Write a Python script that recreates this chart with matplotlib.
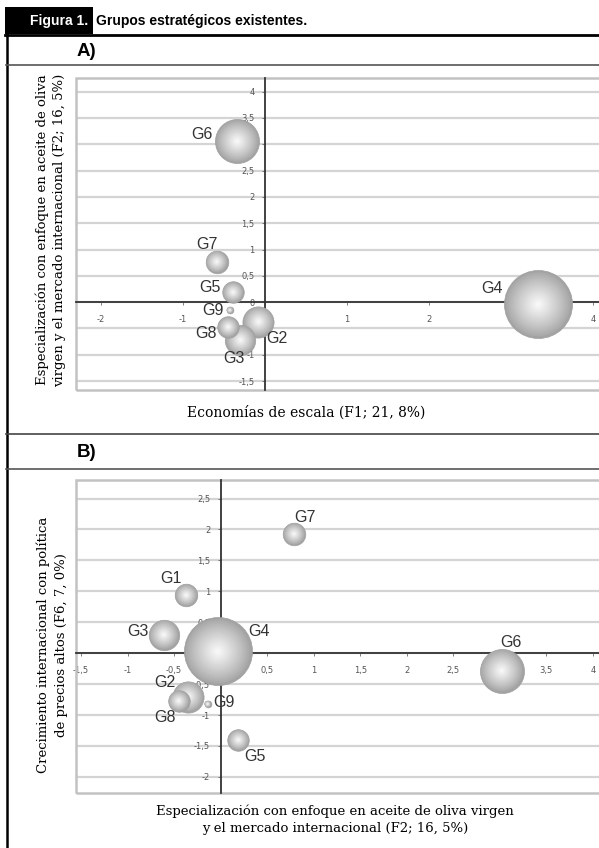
import matplotlib
matplotlib.use("Agg")
import matplotlib.pyplot as plt
from matplotlib.patches import Rectangle
import numpy as np

# bubble weights (relative size of each strategic group)
groups = ["G1", "G2", "G3", "G4", "G5", "G6", "G7", "G8", "G9"]
weights = [11, 21, 20, 100, 10, 42, 11, 10, 1]

# panel A: F1 (x) vs F2 (y)  -- G1 not visible in the original
a_groups = ["G2", "G3", "G4", "G5", "G6", "G7", "G8", "G9"]
a_x = [-0.08, -0.30, 3.33, -0.39, -0.34, -0.59, -0.45, -0.43]
a_y = [-0.37, -0.72, -0.04, 0.19, 3.06, 0.77, -0.47, -0.15]
# label offsets in points
a_off = {"G2": (13, -12), "G3": (-5, -13), "G4": (-33, 11), "G5": (-17, 3),
         "G6": (-25, 5), "G7": (-7, 12), "G8": (-16, -5), "G9": (-12, 0)}

# panel B: F2 (x) vs F6 (y)
b_groups = ["G1", "G2", "G3", "G4", "G5", "G6", "G7", "G8", "G9"]
b_x = [-0.37, -0.35, -0.61, -0.03, 0.19, 3.02, 0.79, -0.45, -0.14]
b_y = [0.94, -0.70, 0.30, 0.03, -1.40, -0.28, 1.93, -0.77, -0.82]
b_off = {"G1": (-11, 12), "G2": (-17, 10), "G3": (-19, 2), "G4": (30, 14),
         "G5": (12, -12), "G6": (7, 20), "G7": (8, 12), "G8": (-10, -12),
         "G9": (12, 1)}

W, H = 599, 848


def fx(x):
    return x / W


def fy(y):
    return 1 - y / H


def fmt(v):
    return ("%g" % v).replace(".", ",")


def bubbles(ax, names, xs, ys, offs):
    order = sorted(range(len(names)), key=lambda i: -weights[groups.index(names[i])])
    n = 16
    for rank, i in enumerate(order):
        w = weights[groups.index(names[i])]
        s = 24.0 * w
        z = 3 + rank
        for k in range(n):
            t = k / (n - 1)
            f = 1 - 0.93 * t
            g = 0.64 + 0.33 * t ** 0.9
            ax.scatter([xs[i]], [ys[i]], s=s * f * f, color=(g, g, g),
                       edgecolors="#a0a0a0" if k == 0 else "none",
                       linewidths=0.5, zorder=z + k / (n + 1))
        ax.annotate(names[i], (xs[i], ys[i]), xytext=offs[names[i]],
                    textcoords="offset points", ha="center", va="center",
                    fontsize=11.5, family="Liberation Sans", color="#333333",
                    zorder=30)


def setup(ax, xlim, ylim, xticks, yticks):
    ax.set_xlim(*xlim)
    ax.set_ylim(*ylim)
    ax.spines["left"].set_position(("data", 0))
    ax.spines["bottom"].set_position(("data", 0))
    for sp in ["left", "bottom"]:
        ax.spines[sp].set_color("#333333")
        ax.spines[sp].set_linewidth(1.3)
        ax.spines[sp].set_zorder(2.5)
    ax.spines["top"].set_visible(False)
    ax.spines["right"].set_visible(False)
    ax.set_xticks(xticks)
    ax.set_xticklabels([fmt(v) for v in xticks])
    ax.set_yticks(yticks)
    ax.set_yticklabels([fmt(v) for v in yticks])
    ax.tick_params(labelsize=6, colors="#666666", labelcolor="#555555",
                   length=2.5, width=0.6, direction="out")
    ax.tick_params(axis="x", pad=7)
    ax.tick_params(axis="y", pad=5)
    ax.yaxis.grid(True, color="#d4d4d4", lw=1.6)
    ax.set_axisbelow(True)
    ax.add_patch(Rectangle((0, 0), 1, 1, transform=ax.transAxes, fill=False,
                           edgecolor="#c2c2c2", lw=1.8, clip_on=False, zorder=1))


fig = plt.figure(figsize=(W / 100, H / 100), dpi=100)

# frame and headers
fig.add_artist(Rectangle((fx(5), fy(34)), fx(88), 27 / H, color="black", lw=0))
fig.text(fx(88), fy(21), "Figura 1.", color="white", fontsize=10,
         fontweight="bold", family="Liberation Sans", ha="right", va="center")
fig.text(fx(96), fy(21), "Grupos estratégicos existentes.", color="black",
         fontsize=10, fontweight="bold", family="Liberation Sans",
         ha="left", va="center")
fig.add_artist(plt.Line2D([fx(5), 1], [fy(35), fy(35)], color="black", lw=2))
fig.add_artist(plt.Line2D([fx(6.5), fx(6.5)], [fy(34), 0], color="black", lw=1.8))
fig.add_artist(plt.Line2D([fx(6), 1], [fy(65), fy(65)], color="#555555", lw=1.2))
fig.add_artist(plt.Line2D([fx(6), 1], [fy(434), fy(434)], color="#444444", lw=1.2))
fig.add_artist(plt.Line2D([fx(6), 1], [fy(469), fy(469)], color="#555555", lw=1.2))
fig.text(fx(77), fy(52), "A)", fontsize=13.5, fontweight="bold",
         family="Liberation Sans", ha="left", va="center")
fig.text(fx(77), fy(452), "B)", fontsize=13.5, fontweight="bold",
         family="Liberation Sans", ha="left", va="center")

# panel A
axA = fig.add_axes([fx(76), fy(390), (630 - 76) / W, (390 - 78) / H])
setup(axA, (-2.305, 4.45), (-1.67, 4.26), [-2, -1, 0, 1, 2, 3, 4],
      list(np.arange(-1.5, 4.01, 0.5)))
bubbles(axA, a_groups, a_x, a_y, a_off)
fig.text(fx(51), fy(230),
         "Especialización con enfoque en aceite de oliva\nvirgen y el mercado internacional (F2; 16, 5%)",
         rotation=90, ha="center", va="center", fontsize=9.5,
         family="DejaVu Serif", linespacing=1.45)
fig.text(fx(306), fy(413), "Economías de escala (F1; 21, 8%)", ha="center",
         va="center", fontsize=10, family="DejaVu Serif")

# panel B
axB = fig.add_axes([fx(76), fy(793), (630 - 76) / W, (793 - 480) / H])
setup(axB, (-1.554, 4.40), (-2.26, 2.80),
      list(np.arange(-1.5, 4.01, 0.5)), list(np.arange(-2, 2.51, 0.5)))
bubbles(axB, b_groups, b_x, b_y, b_off)
fig.text(fx(52), fy(645),
         "Crecimiento internacional con política\nde precios altos (F6, 7, 0%)",
         rotation=90, ha="center", va="center", fontsize=9.5,
         family="DejaVu Serif", linespacing=1.45)
fig.text(fx(335), fy(820),
         "Especialización con enfoque en aceite de oliva virgen\ny el mercado internacional (F2; 16, 5%)",
         ha="center", va="center", fontsize=9.5, family="DejaVu Serif",
         linespacing=1.4)

fig.savefig("out.png", dpi=100)
